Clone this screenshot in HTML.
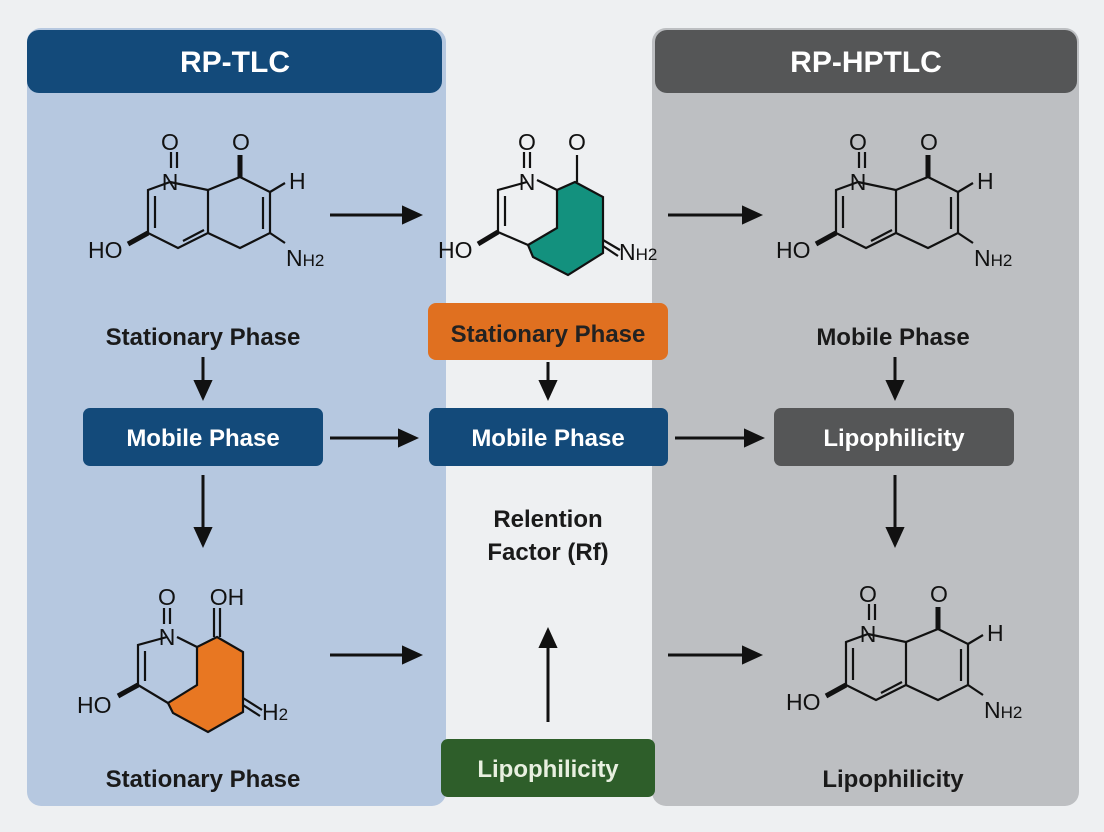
<!DOCTYPE html>
<html><head><meta charset="utf-8"><style>
body{margin:0;width:1104px;height:832px;background:#eef0f2;font-family:"Liberation Sans",sans-serif;overflow:hidden}
svg{position:absolute;left:0;top:0}
</style></head><body>
<svg width="1104" height="832" viewBox="0 0 1104 832" font-family="Liberation Sans, sans-serif">
<defs>
<marker id="ah" markerWidth="8" markerHeight="8" refX="6" refY="4" orient="auto" markerUnits="strokeWidth"><path d="M0,0.8 L7,4 L0,7.2z" fill="#111"/></marker>
<g id="mol" stroke="#111" stroke-width="2.2" fill="none">
<path d="M170,182 L148,190 L148,233 L178,248 L208,233 L208,190 L170,182"/>
<path d="M155,196 L155,228 M183,241 L204,230"/>
<path d="M208,190 L240,177 L270,192 L270,233 L240,248 L208,233"/>
<path d="M263,197 L263,229"/>
<path d="M270,192 L285,183 M270,233 L285,243"/>
<path d="M171,152 L171,168 M177,152 L177,168"/>
<path d="M240,177 L240,155" stroke-width="5"/>
<path d="M148,233 L128,244" stroke-width="5"/>
<g stroke="none" fill="#111" font-size="23"><text x="170" y="150" text-anchor="middle">O</text><text x="241" y="150" text-anchor="middle">O</text><text x="170" y="190" text-anchor="middle" fill="#111" stroke="#111" stroke-width="0">N</text><text x="289" y="189">H</text><text x="286" y="266">N<tspan font-size="17">H2</tspan></text><text x="88" y="258">HO</text></g>
</g>
</defs>
<rect x="27" y="28" width="419" height="778" rx="14" fill="#b6c8e0"/>
<rect x="652" y="28" width="427" height="778" rx="14" fill="#bdbfc2"/>
<rect x="27" y="30" width="415" height="63" rx="12" fill="#134a7a"/>
<rect x="655" y="30" width="422" height="63" rx="12" fill="#555657"/>
<text x="235" y="72" fill="#fff" font-size="30" font-weight="bold" text-anchor="middle">RP-TLC</text>
<text x="866" y="72" fill="#fff" font-size="30" font-weight="bold" text-anchor="middle">RP-HPTLC</text>

<use href="#mol"/>
<use href="#mol" transform="translate(688,0)"/>
<use href="#mol" transform="translate(698,452)"/>

<!-- middle molecule -->
<g stroke="#111" stroke-width="2.2" fill="none">
<path d="M575,182 L603,197 L603,253 L568,275 L533,257 L528,245 L557,228 L557,190z" fill="#13917e"/>
<path d="M527,182 L498,190 L498,232 L528,245 M557,190 L537,180"/>
<path d="M505,196 L505,226"/>
<path d="M524,152 L524,168 M530,152 L530,168 M577,155 L577,182 M603,240 L620,250 M603,246 L618,256"/>
<path d="M498,232 L478,244" stroke-width="5"/>
<g stroke="none" fill="#111" font-size="23"><text x="527" y="150" text-anchor="middle">O</text><text x="577" y="150" text-anchor="middle">O</text><text x="527" y="190" text-anchor="middle">N</text><text x="619" y="260">N<tspan font-size="17">H2</tspan></text><text x="438" y="258">HO</text></g>
</g>
<!-- bottom-left molecule -->
<g stroke="#111" stroke-width="2.2" fill="none">
<path d="M217,637 L243,652 L243,712 L208,732 L173,713 L168,703 L197,685 L197,647z" fill="#e87722"/>
<path d="M167,637 L138,645 L138,685 L168,703 M197,647 L177,637"/>
<path d="M145,651 L145,681"/>
<path d="M164,608 L164,624 M170,608 L170,624 M214,608 L214,637 M220,608 L220,637 M243,698 L262,710 M243,705 L260,716"/>
<path d="M138,685 L118,696" stroke-width="5"/>
<g stroke="none" fill="#111" font-size="23"><text x="167" y="605" text-anchor="middle">O</text><text x="227" y="605" text-anchor="middle">OH</text><text x="167" y="645" text-anchor="middle">N</text><text x="262" y="720">H<tspan font-size="17">2</tspan></text><text x="77" y="713">HO</text></g>
</g>

<g font-size="24" font-weight="bold" fill="#1a1a1a" text-anchor="middle">
<text x="203" y="345">Stationary Phase</text>
<text x="893" y="345">Mobile Phase</text>
<text x="548" y="527">Relention</text>
<text x="548" y="560">Factor (Rf)</text>
<text x="203" y="787">Stationary Phase</text>
<text x="893" y="787">Lipophilicity</text>
</g>
<rect x="428" y="303" width="240" height="57" rx="8" fill="#e07020"/>
<text x="548" y="342" font-size="24" font-weight="bold" fill="#222" text-anchor="middle">Stationary Phase</text>
<rect x="83" y="408" width="240" height="58" rx="7" fill="#134a7a"/>
<rect x="429" y="408" width="239" height="58" rx="7" fill="#134a7a"/>
<rect x="774" y="408" width="240" height="58" rx="7" fill="#555657"/>
<rect x="441" y="739" width="214" height="58" rx="7" fill="#2e5e2a"/>
<g font-size="24" font-weight="bold" fill="#fff" text-anchor="middle">
<text x="203" y="446">Mobile Phase</text>
<text x="548" y="446">Mobile Phase</text>
<text x="894" y="446">Lipophilicity</text>
<text x="548" y="777" fill="#e8f0e0">Lipophilicity</text>
</g>
<g stroke="#111" stroke-width="3" marker-end="url(#ah)">
<line x1="330" y1="215" x2="420" y2="215"/>
<line x1="668" y1="215" x2="760" y2="215"/>
<line x1="330" y1="438" x2="416" y2="438"/>
<line x1="675" y1="438" x2="762" y2="438"/>
<line x1="330" y1="655" x2="420" y2="655"/>
<line x1="668" y1="655" x2="760" y2="655"/>
<line x1="203" y1="357" x2="203" y2="398"/>
<line x1="548" y1="362" x2="548" y2="398"/>
<line x1="895" y1="357" x2="895" y2="398"/>
<line x1="203" y1="475" x2="203" y2="545"/>
<line x1="895" y1="475" x2="895" y2="545"/>
<line x1="548" y1="722" x2="548" y2="630"/>
</g>
</svg>
</body></html>
